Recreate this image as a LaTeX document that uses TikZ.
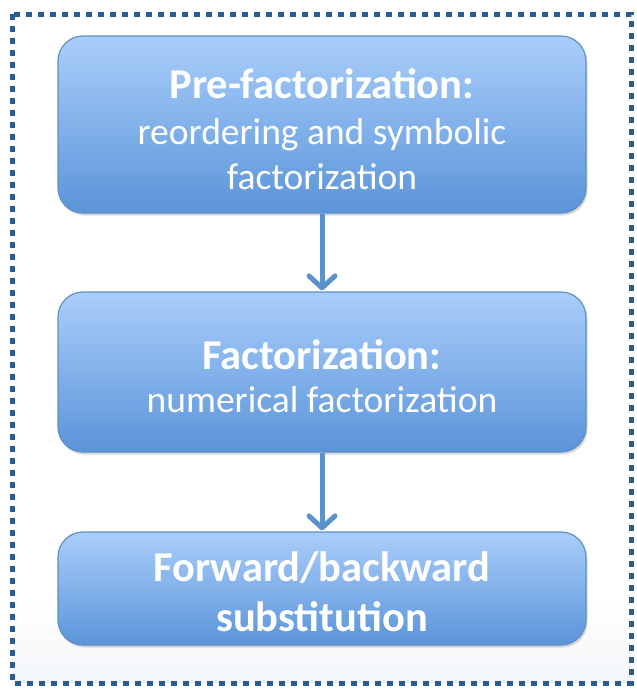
\documentclass[tikz,border=0pt]{standalone}
\usepackage{fontspec}
\setmainfont{Carlito}
\usetikzlibrary{arrows.meta,shadows}
\definecolor{boxtop}{HTML}{AACEFB}
\definecolor{boxbot}{HTML}{5B94D9}
\definecolor{boxedge}{HTML}{5F8FC7}
\definecolor{arrowc}{HTML}{5A91CF}
\definecolor{framec}{HTML}{2B5C91}
\tikzset{
  stage/.style={draw=boxedge, line width=1.2pt, rounded corners=25pt,
    top color=boxtop, bottom color=boxbot, minimum width=528pt,
    inner sep=0pt,
    drop shadow={shadow xshift=1.5pt, shadow yshift=-2.5pt, opacity=0.25, fill=black!60}},
  flow/.style={draw=arrowc, line width=5pt,
    -{Straight Barb[length=12pt,width=26pt,line cap=round,line join=round]}, shorten >=1pt},
  ttl/.style={text=white, align=center, inner sep=0pt, font=\fontsize{42.5}{50}\selectfont\bfseries},
  sub/.style={text=white, align=center, inner sep=0pt, font=\fontsize{37.5}{45}\selectfont},
}
\begin{document}
\begin{tikzpicture}[x=1pt,y=-1pt]
\useasboundingbox (0,0) rectangle (637,689);
\fill[white] (0,0) rectangle (637,689);
\fill[bottom color=framec!6, top color=white] (12,600) rectangle (631,682);
\draw[framec, line width=5pt, dash pattern=on 6pt off 6pt] (12,14) rectangle (631,683);
\node[stage, minimum height=177pt] (a) at (322,124.5) {};
\node[ttl] (at) at (322,84) {Pre-factorization:};
\node[sub] (as) at (322,154) {reordering and symbolic\\factorization};
\node[stage, minimum height=160pt] (b) at (322,372) {};
\node[ttl] (bt) at (322,355) {Factorization:};
\node[sub] (bs) at (322,400) {numerical factorization};
\node[stage, minimum height=113pt] (c) at (322,588.5) {};
\node[ttl] (ct) at (322,592) {Forward/backward\\substitution};
\draw[flow] (a.south) -- (b.north);
\draw[flow] (b.south) -- (c.north);
\end{tikzpicture}
\end{document}
